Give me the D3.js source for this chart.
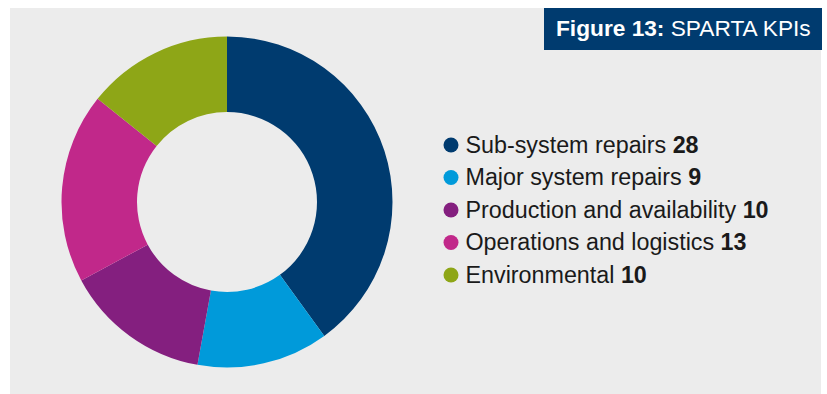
<!DOCTYPE html>
<html>
<head>
<meta charset="utf-8">
<script src="https://cdn.jsdelivr.net/npm/d3@7"></script>
<style>
  html, body { margin: 0; padding: 0; background: #ffffff; }
  svg { display: block; }
</style>
</head>
<body>
<svg id="chart" width="827" height="394"></svg>
<script>
// KPI categories and counts
const categories = ["Sub-system repairs", "Major system repairs", "Production and availability", "Operations and logistics", "Environmental"];
const values = [28, 9, 10, 13, 10];
const colors = ["#003b6f", "#009ada", "#841f7f", "#c1288a", "#8ea617"];
const titleBold = "Figure 13:";
const titleRest = " SPARTA KPIs";

const svg = d3.select("#chart");
const W = 827, H = 394;

// panel background
svg.append("rect").attr("x", 10).attr("y", 8).attr("width", 811).attr("height", H - 8).attr("fill", "#ececec");

// title box
svg.append("rect").attr("x", 544).attr("y", 8).attr("width", 278).attr("height", 42).attr("fill", "#003b6f");
const title = svg.append("text").attr("x", 556).attr("y", 36)
  .attr("font-family", "Liberation Sans, Arial, Helvetica, sans-serif")
  .attr("font-size", 22.7).attr("fill", "#ffffff");
title.append("tspan").attr("font-weight", "bold").text(titleBold);
title.append("tspan").text(titleRest);

// donut
const data = categories.map((c, i) => ({ name: c, value: values[i], color: colors[i] }));
const pie = d3.pie().value(d => d.value).sort(null);
const arc = d3.arc().innerRadius(90).outerRadius(165.5);
const g = svg.append("g").attr("transform", "translate(227,202)");
g.selectAll("path").data(pie(data)).join("path")
  .attr("d", arc)
  .attr("fill", d => d.data.color);

// legend
const legend = svg.append("g").attr("transform", "translate(451,145)");
const rows = legend.selectAll("g").data(data).join("g")
  .attr("transform", (d, i) => `translate(0,${i * 32.5})`);
rows.append("circle").attr("r", 7.5).attr("fill", d => d.color);
const lt = rows.append("text").attr("x", 14.5).attr("y", 7.8)
  .attr("font-family", "Liberation Sans, Arial, Helvetica, sans-serif")
  .attr("font-size", 23.3).attr("fill", "#1a1a1a");
lt.append("tspan").text(d => d.name + " ");
lt.append("tspan").attr("font-weight", "bold").text(d => d.value);
</script>
</body>
</html>
